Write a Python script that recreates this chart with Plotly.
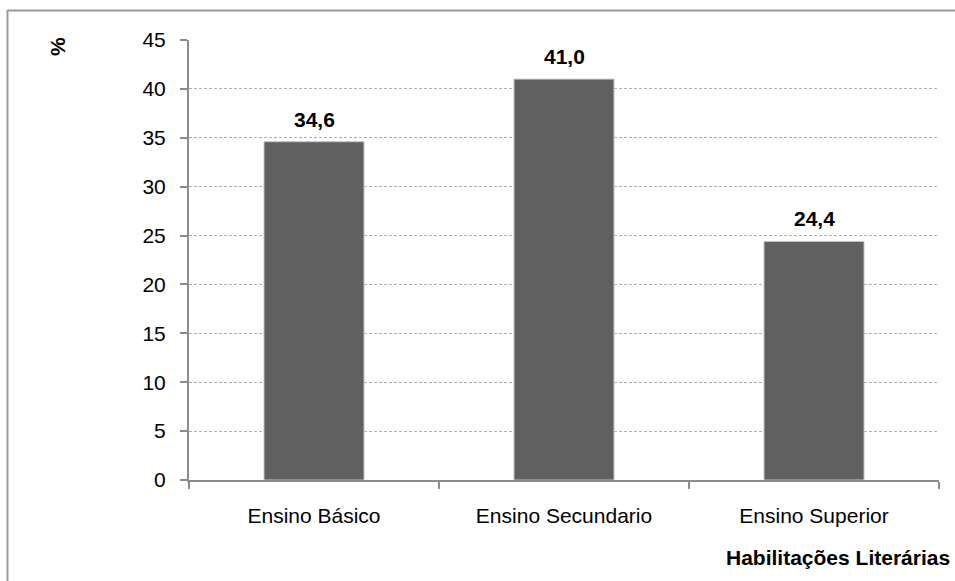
import plotly.graph_objects as go

# Habilitações literárias (%)
categorias = ["Ensino Básico", "Ensino Secundario", "Ensino Superior"]
valores = [34.6, 41.0, 24.4]
rotulos = ["34,6", "41,0", "24,4"]
y_ticks = [0, 5, 10, 15, 20, 25, 30, 35, 40, 45]

W, H = 955, 581
L, R, T, B = 189, 16, 40, 101
FONT = "Liberation Sans, Arial, sans-serif"
FS = 21
AXIS = "#8c8c8c"

fig = go.Figure(
    go.Bar(
        x=categorias,
        y=valores,
        width=0.4,
        marker=dict(color="#606060", line=dict(color="#c4c4c4", width=1)),
        hoverinfo="x+y",
    )
)

# value labels above each bar
for cat, val, txt in zip(categorias, valores, rotulos):
    fig.add_annotation(
        x=cat, y=val, text=f"<b>{txt}</b>", showarrow=False,
        yanchor="bottom", yshift=9,
        font=dict(family=FONT, size=FS, color="black"),
    )

pw = W - L - R
ph = H - T - B


def px_x(p):
    return (p - L) / pw


def px_y(p):
    return (H - B - p) / ph


# outer frame (left and top edges)
fig.add_shape(type="line", xref="paper", yref="paper",
              x0=px_x(7.5), x1=px_x(960), y0=px_y(10.5), y1=px_y(10.5),
              line=dict(color="#999999", width=2))
fig.add_shape(type="line", xref="paper", yref="paper",
              x0=px_x(7.5), x1=px_x(7.5), y0=px_y(10), y1=px_y(581),
              line=dict(color="#999999", width=2))

# axis titles
fig.add_annotation(
    xref="paper", yref="paper", x=px_x(58), y=px_y(47),
    text="<b>%</b>", textangle=-90, showarrow=False,
    xanchor="center", yanchor="middle",
    font=dict(family=FONT, size=FS, color="black"),
)
fig.add_annotation(
    xref="paper", yref="paper", x=px_x(952), y=px_y(557),
    text="<b>Habilitações Literárias</b>", showarrow=False,
    xanchor="right", yanchor="middle",
    font=dict(family=FONT, size=FS, color="black"),
)

fig.update_layout(
    width=W, height=H,
    margin=dict(l=L, r=R, t=T, b=B, pad=0),
    paper_bgcolor="white", plot_bgcolor="white",
    showlegend=False,
    font=dict(family=FONT, size=FS, color="black"),
    bargap=0.6,
)
fig.update_yaxes(
    range=[0, 45], tickvals=y_ticks, ticktext=[str(v) for v in y_ticks],
    showline=True, linecolor=AXIS, linewidth=2,
    ticks="outside", ticklen=7, tickcolor=AXIS, tickwidth=2,
    showgrid=True, gridcolor="#b0b0b0", gridwidth=1, griddash="3px,2px",
    zeroline=False, ticklabelstandoff=10,
    tickfont=dict(family=FONT, size=FS, color="black"),
)
fig.update_xaxes(
    showline=True, linecolor=AXIS, linewidth=2,
    ticks="outside", ticklen=7, tickcolor=AXIS, tickwidth=2,
    tickson="boundaries", showgrid=False,
    ticklabelstandoff=16,
    tickfont=dict(family=FONT, size=FS, color="black"),
)

fig.write_html("out.html")
